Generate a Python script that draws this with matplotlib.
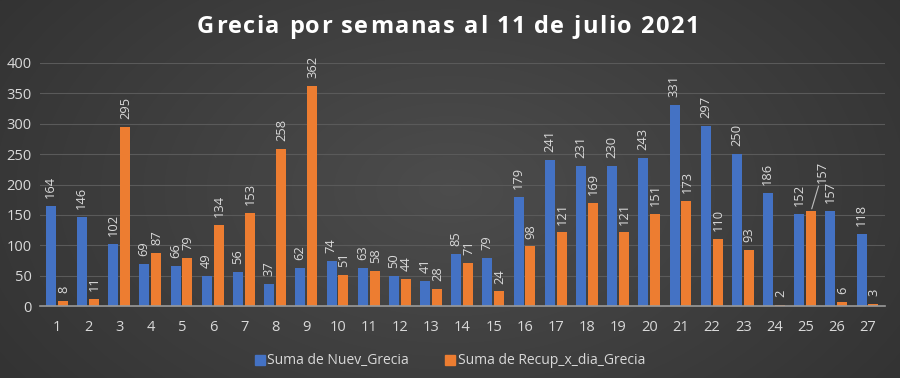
import numpy as np
import matplotlib
matplotlib.use("Agg")
import matplotlib.pyplot as plt
from matplotlib.patches import Patch
from matplotlib.font_manager import FontProperties

weeks = [str(i) for i in range(1, 28)]
nuev = [164, 146, 102, 69, 66, 49, 56, 37, 62, 74, 63, 50, 41, 85, 79, 179,
        241, 231, 230, 243, 331, 297, 250, 186, 152, 157, 118]
recup = [8, 11, 295, 87, 79, 134, 153, 258, 362, 51, 58, 44, 28, 71, 24, 98,
         121, 169, 121, 151, 173, 110, 93, 2, 157, 6, 3]
title = "Grecia por semanas al 11 de julio 2021"
series_names = ["Suma de Nuev_Grecia", "Suma de Recup_x_dia_Grecia"]

W, H = 900, 378
fig = plt.figure(figsize=(W / 100, H / 100), dpi=100)

# background radial gradient
bg = fig.add_axes([0, 0, 1, 1], zorder=-10)
yy, xx = np.mgrid[0:H, 0:W]
r = np.sqrt(((xx - W * 0.5) / (W * 0.6)) ** 2 + ((yy - H * 0.5) / (H * 0.9)) ** 2)
v = np.clip(0.30 - 0.10 * r, 0.17, 0.31)
img = np.dstack([v, v, v])
bg.imshow(img, aspect="auto", extent=[0, 1, 0, 1])
bg.axis("off")

ax = fig.add_axes([40 / W, 1 - 306 / H, (885 - 40) / W, (306 - 63) / H])
ax.set_facecolor("none")
x = np.arange(1, 28)
bw = 0.32
blue = "#4472C4"
orange = "#ED7D31"
ax.bar(x - 0.2, nuev, bw, color=blue, zorder=3)
ax.bar(x + 0.18, recup, bw, color=orange, zorder=3)

lab_col = "#d9d9d9"
fnt = "Open Sans"
fs = 9.3
off = 13
for xi, v1, v2 in zip(x, nuev, recup):
    ax.text(xi - 0.21, v1 + off, str(v1), rotation=90, ha="center", va="bottom",
            color=lab_col, fontsize=fs, family=fnt)
    if xi == 25:
        ax.annotate(str(v2), xy=(xi + 0.2, v2 + 3), xytext=(xi + 0.55, v2 + 45),
                    rotation=90, ha="center", va="bottom", color=lab_col, fontsize=fs,
                    family=fnt,
                    arrowprops=dict(arrowstyle="-", color="#bfbfbf", lw=0.8,
                                    shrinkA=0, shrinkB=0))
    else:
        ax.text(xi + 0.2, v2 + off, str(v2), rotation=90, ha="center", va="bottom",
                color=lab_col, fontsize=fs, family=fnt)

ax.set_xlim(0.45, 27.55)
ax.set_ylim(0, 400)
ax.set_yticks(range(0, 401, 50))
ax.set_xticks(x)
ax.set_xticklabels(weeks)
ax.tick_params(axis="both", length=0, colors=lab_col, labelsize=10.5)
ax.tick_params(axis="x", pad=10)
ax.tick_params(axis="y", pad=6)
for lbl in ax.get_xticklabels() + ax.get_yticklabels():
    lbl.set_family(fnt)
ax.grid(axis="y", color="#5a5a5a", lw=0.8, zorder=0)
for s in ["top", "right", "left"]:
    ax.spines[s].set_visible(False)
ax.spines["bottom"].set_color("#9a9a9a")
ax.spines["bottom"].set_linewidth(1.2)
ax.spines["bottom"].set_zorder(4)

# letter-spaced title
renderer = fig.canvas.get_renderer()
tprop = FontProperties(family="Open Sans", weight="bold", size=17)
def twidth(s):
    if not s:
        return 0.0
    w, h, d = renderer.get_text_width_height_descent(s, tprop, ismath=False)
    return w
spacing = 1.5
total = twidth(title) + spacing * (len(title) - 1)
x0 = (W - total) / 2 - 2
ty = 1 - 27 / H
for i, ch in enumerate(title):
    if ch == " ":
        continue
    px = x0 + twidth(title[:i]) + spacing * i
    fig.text(px / W, ty, ch, ha="left", va="center", color="white",
             fontproperties=tprop)

handles = [Patch(color=blue), Patch(color=orange)]
fig.legend(handles, series_names, loc="center", bbox_to_anchor=(0.5, 1 - 361 / H),
           ncol=2, frameon=False, labelcolor=lab_col,
           handlelength=0.7, handleheight=0.7, handletextpad=0.2, columnspacing=2.6,
           prop={"family": fnt, "size": 10})

fig.savefig("out.png", dpi=100)
